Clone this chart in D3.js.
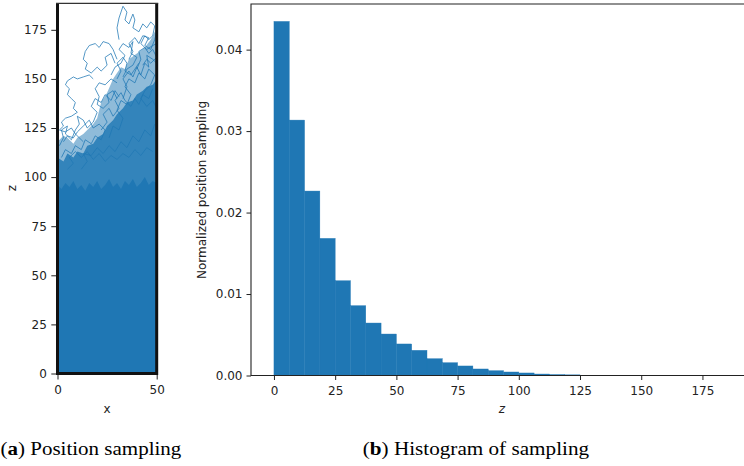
<!DOCTYPE html>
<html>
<head>
<meta charset="utf-8">
<script src="https://cdn.jsdelivr.net/npm/d3@7"></script>
<style>
  html, body { margin: 0; padding: 0; background: #fff; }
  svg { display: block; }
  .tick text { font-family: "DejaVu Sans", sans-serif; font-size: 12px; fill: #222; }
  .tick line { stroke: #222; stroke-width: 1; }
  .domain { display: none; }
</style>
</head>
<body>
<svg id="fig" width="744" height="466"></svg>
<script>
// ---- (a) sampled positions: envelopes of the covered region and individual walks ----
const solidTop = [[0,96],[2,94],[4,97],[6,95],[8,98],[10,94],[12,96],[14,93],[16,97],[18,95],[20,98],[22,94],[24,96],[26,99],[28,95],[30,97],[32,94],[34,98],[36,96],[38,99],[40,95],[42,97],[44,100],[46,96],[48,98],[50,97]];
const denseTop = [[0,110],[3,108],[5,112],[8,110],[10,113],[13,112],[15,116],[18,117],[20,120],[23,122],[25,126],[28,129],[30,132],[33,135],[35,138],[38,139],[40,142],[43,144],[45,146],[48,147],[50,150]];
const meshTop  = [[0,118],[3,121],[5,120],[8,117],[10,120],[13,122],[15,124],[18,127],[20,130],[22,138],[25,143],[28,150],[30,153],[32,156],[34,155],[36,160],[40,163],[44,166],[47,170],[50,176]];
const walks = [
  [[31,170],[30,176],[31,181],[33,187],[35,184],[34,180],[36,178],[38,183],[39,180],[38,176],[41,174],[43,178],[45,176],[47,179],[49,177],[48,172],[46,170],[44,172],[42,168],[45,165],[48,167],[50,168]],
  [[30,160],[28,165],[26,168],[23,169],[21,166],[19,168],[16,167],[14,164],[13,160],[15,158],[14,155],[17,153],[20,156],[22,154],[25,157],[24,161],[27,163],[29,158]],
  [[18,150],[16,152],[13,151],[10,150],[8,151],[5,149],[4,147],[6,145],[5,142],[7,140],[9,138],[8,135],[10,133],[7,131],[4,130],[2,128],[3,126],[1,124],[4,123],[7,125],[9,122],[11,120],[13,118]],
  [[30,148],[27,150],[24,147],[21,148],[19,145],[21,141],[20,137],[23,135],[26,138],[25,142],[28,144],[30,140]],
  [[40,155],[42,160],[41,164],[44,166],[46,163],[48,165],[50,161],[47,158],[45,160],[43,157]],
  [[27,152],[29,156],[32,158],[34,162],[31,165],[33,168],[36,166],[38,169],[37,163],[40,161],[38,157],[35,155],[33,151]],
  [[2,110],[4,114],[7,112],[9,116],[12,114],[14,119],[17,117],[19,121],[22,119],[24,124],[21,127],[18,125],[16,129],[13,126],[10,123],[8,120],[5,121],[3,118]],
  [[26,120],[28,126],[31,124],[33,130],[30,134],[32,139],[35,137],[37,142],[34,146],[36,150],[39,148],[41,153],[44,150],[46,155],[49,152],[47,147],[44,144],[42,140],[45,136],[48,139],[50,135]],
  [[12,104],[15,108],[13,112],[17,111],[20,115],[23,112],[26,116],[29,113],[32,118],[35,115],[38,121],[41,118],[44,124],[47,121],[49,127]],
  [[1,116],[3,120],[2,124],[5,126],[4,122],[7,119],[9,124],[11,127],[10,131],[13,129],[15,125],[18,128],[20,133],[17,136],[19,140],[22,138],[24,142],[27,139],[29,144],[31,141]],
  [[33,140],[35,146],[33,150],[36,154],[38,151],[40,156],[42,152],[44,158],[46,156],[45,162],[48,160],[50,158]],
  [[36,160],[38,164],[36,168],[39,171],[41,168],[43,172],[46,171],[44,167],[47,165],[49,170],[50,174]],
  [[22,124],[25,128],[23,132],[26,135],[28,131],[31,135],[29,139],[32,143],[34,139],[37,136],[39,140],[41,137],[43,142],[46,140],[48,145]],
  [[5,104],[8,107],[6,110],[9,113],[12,110],[15,113],[18,109],[21,112],[24,108],[27,111],[30,109],[33,112],[36,110],[39,114],[42,111],[45,115],[48,113]],
  [[30,150],[32,154],[30,158],[33,161],[35,158],[34,154],[37,152],[39,155],[41,158]]
];
const xTicksA = [0, 50];
const zTicksA = [0, 25, 50, 75, 100, 125, 150, 175];

// ---- (b) normalised histogram of z ----
const binEdges = [0,6.25,12.5,18.75,25,31.25,37.5,43.75,50,56.25,62.5,68.75,75,81.25,87.5,93.75,100,106.25,112.5,118.75,125,131.25,137.5,143.75,150,156.25,162.5,168.75,175,181.25,187.5];
const density = [0.04346,0.03135,0.02264,0.01683,0.01163,0.00857,0.00644,0.00509,0.00387,0.00309,0.00206,0.00157,0.00117,0.0008,0.00059,0.00043,0.00031,0.00018,0.00012,0.00008,0.00002,0.00002,0.00001,0.00001,0.00001,0.00001,0.000005,0.000005,0.000003,0.000002];
const xTicksB = [0, 25, 50, 75, 100, 125, 150, 175];
const yTicksB = [0, 0.01, 0.02, 0.03, 0.04];

const blue = "#1f77b4";
const svg = d3.select("#fig");
svg.append("rect").attr("width", 744).attr("height", 466).attr("fill", "#fff");

// ================= panel (a) =================
const xA = d3.scaleLinear().domain([0, 50]).range([57.5, 156.7]);
const zA = d3.scaleLinear().domain([0, 188.5]).range([373.5, 3.3]);
const gA = svg.append("g");
gA.append("clipPath").attr("id", "clipA").append("rect")
  .attr("x", xA(0)).attr("y", zA(188.5)).attr("width", xA(50) - xA(0)).attr("height", zA(0) - zA(188.5));
const plotA = gA.append("g").attr("clip-path", "url(#clipA)");
const area = d3.area().x(d => xA(d[0])).y0(zA(0)).y1(d => zA(d[1]));
plotA.append("path").attr("d", area(meshTop)).attr("fill", blue).attr("fill-opacity", 0.5);
plotA.append("path").attr("d", area(denseTop)).attr("fill", blue).attr("fill-opacity", 0.82);
plotA.append("path").attr("d", area(solidTop)).attr("fill", blue);
const line = d3.line().x(d => xA(d[0])).y(d => zA(d[1])).curve(d3.curveLinear);
plotA.selectAll("path.walk").data(walks).join("path").attr("class", "walk")
  .attr("d", line).attr("fill", "none").attr("stroke", blue)
  .attr("stroke-width", 0.9).attr("stroke-opacity", 0.85).attr("stroke-linejoin", "round");

// box walls at x=0, x=50 and z=0
gA.append("path")
  .attr("d", `M${xA(0)},${zA(188.5)}V${zA(0)}H${xA(50)}V${zA(188.5)}`)
  .attr("fill", "none").attr("stroke", "#111").attr("stroke-width", 3);
gA.append("line").attr("x1", xA(0) - 1.5).attr("x2", xA(50) + 1.5).attr("y1", zA(188.5)).attr("y2", zA(188.5))
  .attr("stroke", "#333").attr("stroke-width", 1.3);

gA.append("g").attr("transform", `translate(0,${zA(0) + 1.5})`)
  .call(d3.axisBottom(xA).tickValues(xTicksA).tickFormat(d3.format("d")).tickSize(4.5).tickPadding(6));
gA.append("g").attr("transform", `translate(${xA(0) - 1.5},0)`)
  .call(d3.axisLeft(zA).tickValues(zTicksA).tickFormat(d3.format("d")).tickSize(4.7).tickPadding(4.5));

svg.append("text").attr("x", 107).attr("y", 412.5).attr("text-anchor", "middle")
  .attr("font-family", "DejaVu Sans, sans-serif").attr("font-size", 12).attr("fill", "#222").text("x");
svg.append("text").attr("transform", "translate(15.8,188) rotate(-90)").attr("text-anchor", "middle")
  .attr("font-family", "DejaVu Sans, sans-serif").attr("font-size", 12).attr("fill", "#222").text("z");

// ================= panel (b) =================
const xB = d3.scaleLinear().domain([-9.375, 196.875]).range([251, 756]);
const yB = d3.scaleLinear().domain([0, 0.0456]).range([375.5, 4]);
const gB = svg.append("g");
const bins = density.map((v, i) => ({ x0: binEdges[i], x1: binEdges[i + 1], v }));
gB.selectAll("rect.bar").data(bins).join("rect").attr("class", "bar")
  .attr("x", d => xB(d.x0)).attr("width", d => xB(d.x1) - xB(d.x0))
  .attr("y", d => yB(d.v)).attr("height", d => yB(0) - yB(d.v))
  .attr("fill", blue).attr("stroke", blue).attr("stroke-width", 0.4);

// spines: left, bottom, top (right edge lies beyond the canvas)
gB.append("path").attr("d", `M${xB(196.875)},${yB(0.0456)}H251V${yB(0)}H${xB(196.875)}`)
  .attr("fill", "none").attr("stroke", "#222").attr("stroke-width", 1.1);

gB.append("g").attr("transform", `translate(0,${yB(0)})`)
  .call(d3.axisBottom(xB).tickValues(xTicksB).tickFormat(d3.format("d")).tickSize(4.5).tickPadding(6));
gB.append("g").attr("transform", "translate(251,0)")
  .call(d3.axisLeft(yB).tickValues(yTicksB).tickFormat(d3.format(".2f")).tickSize(4.5).tickPadding(4));

svg.append("text").attr("x", 502).attr("y", 412.5).attr("text-anchor", "middle")
  .attr("font-family", "DejaVu Sans, sans-serif").attr("font-style", "italic").attr("font-size", 12).attr("fill", "#222").text("z");
svg.append("text").attr("transform", "translate(206,190) rotate(-90)").attr("text-anchor", "middle")
  .attr("font-family", "DejaVu Sans, sans-serif").attr("font-size", 12).attr("fill", "#222").text("Normalized position sampling");

// ================= captions =================
// Serif caption, stretched horizontally as a whole to its set width.
function caption(x, width, tag, rest) {
  const t = svg.append("text").attr("x", 0).attr("y", 0)
    .attr("font-family", "Liberation Serif, Times New Roman, serif").attr("font-size", 19).attr("fill", "#000");
  t.append("tspan").text("(");
  t.append("tspan").attr("font-weight", "bold").text(tag);
  t.append("tspan").text(") " + rest);
  const natural = t.node().getComputedTextLength();
  t.attr("transform", `translate(${x},455) scale(${width / natural},1)`);
}
caption(0.5, 181, "a", "Position sampling");
caption(362.7, 226.5, "b", "Histogram of sampling");
</script>
</body>
</html>
